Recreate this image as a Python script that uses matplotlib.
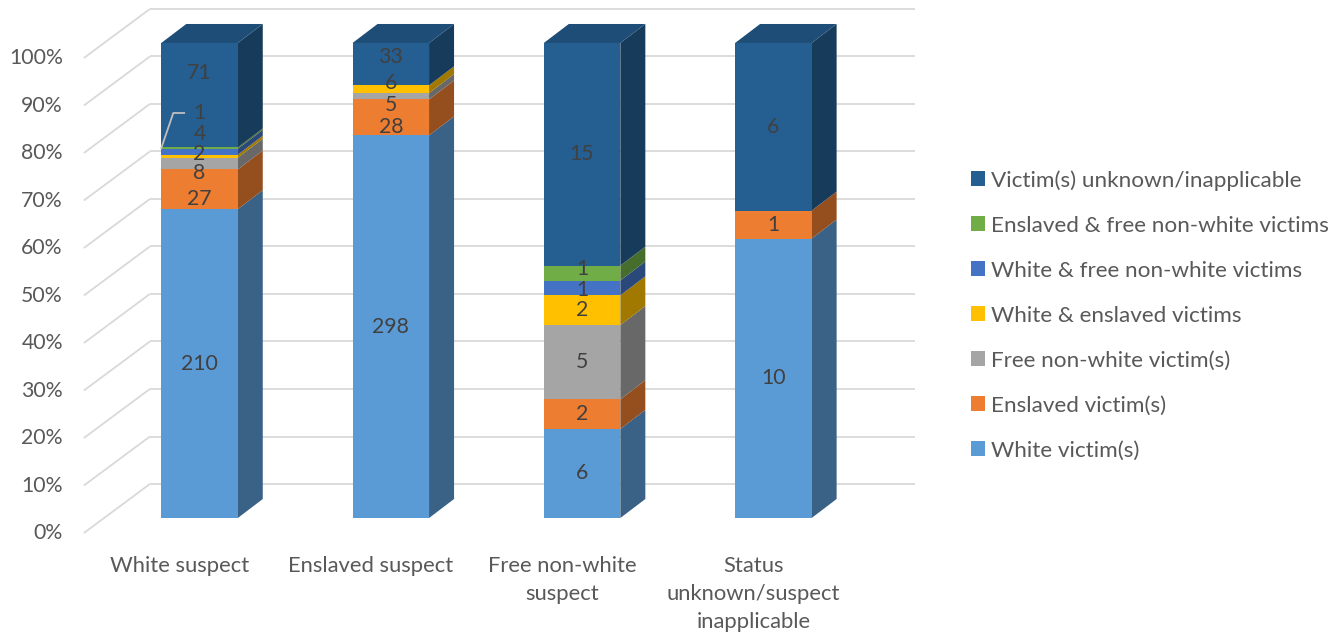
import numpy as np
import matplotlib
matplotlib.use("Agg")
import matplotlib.pyplot as plt
from matplotlib.patches import Polygon, Rectangle, Patch

plt.rcParams['font.family'] = ['Lato', 'DejaVu Sans']

# Counts per suspect status, stacked bottom to top.
categories = ["White suspect", "Enslaved suspect", "Free non-white\nsuspect",
              "Status\nunknown/suspect\ninapplicable"]
series_names = ["White victim(s)", "Enslaved victim(s)", "Free non-white victim(s)",
                "White & enslaved victims", "White & free non-white victims",
                "Enslaved & free non-white victims", "Victim(s) unknown/inapplicable"]
white_victims = [210, 298, 6, 10]
enslaved_victims = [27, 28, 2, 1]
free_nonwhite_victims = [8, 5, 5, 0]
white_enslaved_victims = [2, 6, 2, 0]
white_free_victims = [4, 0, 1, 0]
enslaved_free_victims = [1, 0, 1, 0]
unknown_victims = [71, 33, 15, 6]
yticks = [0, 10, 20, 30, 40, 50, 60, 70, 80, 90, 100]

front_colors = ["#5B9BD5", "#ED7D31", "#A5A5A5", "#FFC000", "#4472C4", "#70AD47", "#255E91"]

# label nudges (in % units) where the labels were moved by hand
label_nudge = {(0, 1): -2.1, (0, 2): -2.0, (0, 3): 0.4, (0, 4): 3.7, (0, 5): 7.4, (0, 6): 4.6,
               (1, 1): -2.0, (1, 2): -1.8, (1, 3): 1.3, (1, 6): 1.5,
               (2, 4): -0.4, (2, 5): 0.8}

counts = np.array([white_victims, enslaved_victims, free_nonwhite_victims,
                   white_enslaved_victims, white_free_victims, enslaved_free_victims,
                   unknown_victims], dtype=float)
pct = counts / counts.sum(axis=0) * 100


def shade(c, f):
    r, g, b = matplotlib.colors.to_rgb(c)
    return (r * f, g * f, b * f)


fig = plt.figure(figsize=(13.43, 6.42), dpi=100)
ax = fig.add_axes([0, 0, 1, 1])
ax.set_xlim(-1.043, 5.978)
ax.set_ylim(-26.1, 109.05)
ax.axis('off')

bar_w = 0.40
depth = (0.1307, 4.0)       # bar depth
front = (-0.1046, -3.16)    # front edge of floor
back = (0.2405, 7.16)       # back wall
x_left, x_right = -0.5, 3.5
grid_c = "#D9D9D9"

for p in yticks:
    ax.plot([x_left + back[0], x_right + back[0]], [p + back[1], p + back[1]],
            color=grid_c, lw=1.3, zorder=0, solid_capstyle='butt')
    ax.plot([x_left + front[0], x_left + back[0]], [p + front[1], p + back[1]],
            color=grid_c, lw=1.3, zorder=0, solid_capstyle='butt')
    ax.text(x_left + front[0] - 0.11, p + front[1], f"{p}%", ha='right', va='center',
            fontsize=15.3, color="#595959")

for i, cat in enumerate(categories):
    x0 = i - bar_w / 2
    x1 = i + bar_w / 2
    bottom = 0.0
    for s in range(len(series_names)):
        h = pct[s, i]
        if h <= 0:
            continue
        top = bottom + h
        col = front_colors[s]
        ax.add_patch(Polygon([(x1, bottom), (x1 + depth[0], bottom + depth[1]),
                              (x1 + depth[0], top + depth[1]), (x1, top)],
                             closed=True, facecolor=shade(col, 0.63), edgecolor='none', zorder=2))
        ax.add_patch(Rectangle((x0, bottom), bar_w, h, facecolor=col, edgecolor='none', zorder=3))
        ly = bottom + h / 2 + label_nudge.get((i, s), 0)
        ax.text(i, ly, f"{int(counts[s, i])}", ha='center', va='center',
                fontsize=15.3, color="#404040", zorder=5)
        if (i, s) == (0, 5):
            # leader line for the squeezed label
            yl = bottom + h / 2
            ax.plot([x0, x0 + 0.063, x0 + 0.12], [yl, ly, ly], color="#BFBFBF", lw=1.3, zorder=6)
        bottom = top
    top_col = shade(front_colors[-1], 0.82)
    ax.add_patch(Polygon([(x0, 100), (x0 + depth[0], 100 + depth[1]),
                          (x1 + depth[0], 100 + depth[1]), (x1, 100)],
                         closed=True, facecolor=top_col, edgecolor='none', zorder=2))
    ax.text(i + front[0], -8.0, cat, ha='center', va='top', fontsize=15.8,
            color="#595959", linespacing=1.5)

handles = [Patch(facecolor=c, edgecolor='none') for c in front_colors]
fig.legend(handles[::-1], series_names[::-1], loc='center left',
           bbox_to_anchor=(0.723, 0.509), frameon=False, fontsize=16.2,
           handlelength=0.62, handleheight=0.62, handletextpad=0.28,
           labelspacing=1.11, borderpad=0, borderaxespad=0, labelcolor="#595959")

fig.savefig("out.png", dpi=100)
